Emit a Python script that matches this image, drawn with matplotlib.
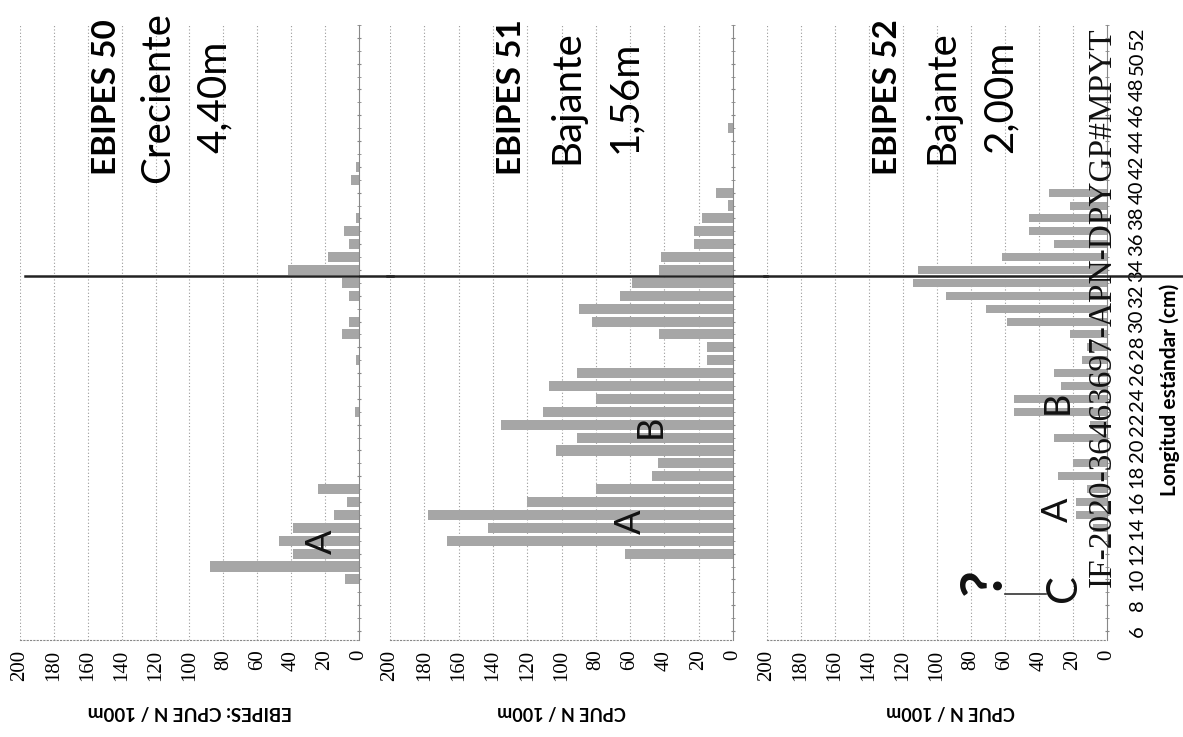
import numpy as np
import matplotlib.pyplot as plt
from matplotlib.ticker import MultipleLocator

plt.rcParams['font.family'] = ['Lato', 'DejaVu Sans']

# length classes (cm), one bar per cm
lengths = list(range(6, 53))

# CPUE N/100m per length class (6 cm ... 52 cm)
ebipes50 = [0, 0, 0, 0, 8, 88, 39, 47, 39, 15, 7, 24, 0, 0, 0, 0, 0, 2.5, 0, 0,
            0, 2, 0, 10, 6, 0, 6, 10, 42, 18, 6, 9, 1.5, 0, 0, 5, 1.5, 0, 0, 0,
            0, 0, 0, 0, 0, 0, 0]
ebipes51 = [0, 0, 0, 0, 0, 0, 63, 167, 143, 178, 120, 80, 47, 44, 103, 91, 135, 111, 80, 107,
            91, 15, 15, 43, 82, 90, 66, 59, 43, 42, 23, 23, 18, 3, 10, 0, 0, 0, 0, 3,
            0, 0, 0, 0, 0, 0, 0]
ebipes52 = [0, 0, 0, 0, 0, 0, 0, 0, 8, 18, 18, 12, 29, 20, 0, 31, 10, 55, 55, 27,
            31, 15, 12, 22, 59, 71, 95, 114, 111, 62, 31, 46, 46, 22, 34, 0, 0, 0, 0, 0,
            0, 0, 0, 0, 0, 0, 0]

titles = [['EBIPES 50', 'Creciente', '4,40m'],
          ['EBIPES 51', 'Bajante', '1,56m'],
          ['EBIPES 52', 'Bajante', '2,00m']]
xlabels = ['EBIPES: CPUE N / 100m', 'CPUE N / 100m', 'CPUE N / 100m']
cpue_ticks = list(range(0, 201, 20))
marker_length = 33.5  # hand drawn line across the three panels

# hand written marks: (panel, text, cpue, length, size)
notes = [(0, 'A', 22, 12.9, 26), (1, 'A', 60, 14.5, 26), (1, 'B', 48, 21.9, 26),
         (2, 'A', 29, 15.4, 26), (2, 'B', 29, 23.7, 26), (2, 'C', 25, 9.3, 30),
         (2, '?', 72, 9.8, 42)]

fig = plt.figure(figsize=(11.83, 7.37), dpi=100)
W, H = 1183, 737
# panel placement in pixels (left of value 200, right of value 0)
spans = [(20, 359), (390, 733), (767, 1107)]
top_px, bottom_px = 25, 640

axes = []
for i, (x0, x1) in enumerate(spans):
    ax = fig.add_axes([x0 / W, 1 - bottom_px / H, (x1 - x0) / W, (bottom_px - top_px) / H])
    axes.append(ax)

data = [ebipes50, ebipes51, ebipes52]
for i, ax in enumerate(axes):
    ax.barh(lengths, data[i], height=0.78 if i < 2 else 0.62, color='#a6a6a6', zorder=2)
    ax.set_xlim(200, 0)
    ax.set_ylim(5.3, 53)
    #Grid and axes
    for v in cpue_ticks[1:]:
        ax.axvline(v, color='#9a9a9a', lw=0.8, ls=(0, (1, 2)), zorder=1)
    ax.spines['top'].set_visible(False)
    ax.spines['left'].set_visible(False)
    ax.spines['bottom'].set_linestyle((0, (1, 2)))
    ax.spines['bottom'].set_color('#888888')
    ax.spines['right'].set_color('#888888')
    ax.set_xticks(cpue_ticks)
    ax.tick_params(axis='x', length=0, pad=7)
    plt.setp(ax.get_xticklabels(), rotation=90, family='Liberation Serif', fontsize=15)
    ax.yaxis.tick_right()
    ax.yaxis.set_minor_locator(MultipleLocator(1))
    ax.set_yticks(lengths[::2])
    ax.tick_params(axis='y', which='both', length=3, color='#888888', direction='inout')
    if i < 2:
        ax.set_yticklabels([])
    else:
        ax.set_yticklabels([str(v) for v in lengths[::2]])
        ax.tick_params(axis='y', pad=14)
        plt.setp(ax.get_yticklabels(), rotation=90, fontsize=14.5, va='center')
    ax.patch.set_alpha(0)
    #Line
    xmax = 1.1 if i < 2 else (W - spans[2][0]) / (spans[2][1] - spans[2][0])
    xmin = 0.015 if i == 0 else -0.01
    ax.axhline(marker_length, xmin=xmin, xmax=xmax, color='#222222', lw=1.8, clip_on=False, zorder=4)
    #Labelling
    ax.text(129 if i else 149, 47.4, titles[i][0], rotation=90, ha='center', va='center',
            fontsize=24, fontweight='bold', zorder=5)
    ax.text(97 if i else 119, 47.4, titles[i][1], rotation=90, ha='center', va='center',
            fontsize=29, zorder=5)
    ax.text(63 if i else 85, 47.4, titles[i][2], rotation=90, ha='center', va='center',
            fontsize=29, zorder=5)
    ax.text(0.5 if i < 2 else 0.54, -0.117, xlabels[i], rotation=180, ha='center', va='center',
            transform=ax.transAxes, fontsize=13.5 if i == 0 else 13, fontweight='bold')

for p, s, x, y, size in notes:
    axes[p].text(x, y, s, rotation=90, ha='center', va='center', fontsize=size,
                 fontweight='bold' if s == '?' else 'normal', color='#111111', zorder=6)
# stroke next to the C mark
axes[2].plot([60, 36], [8.9, 8.9], color='#333333', lw=1.2, zorder=6)

fig.text(1170 / W, 1 - 390 / H, 'Longitud estándar (cm)', rotation=90, ha='center', va='center',
         fontsize=15, fontweight='bold')
fig.text(1102 / W, 1 - 307 / H, 'IF-2020-36463697-APN-DPYGP#MPYT', rotation=90, ha='center',
         va='center', family='Liberation Serif', fontsize=24, color='#111111')

plt.savefig('out.png', dpi=100)
